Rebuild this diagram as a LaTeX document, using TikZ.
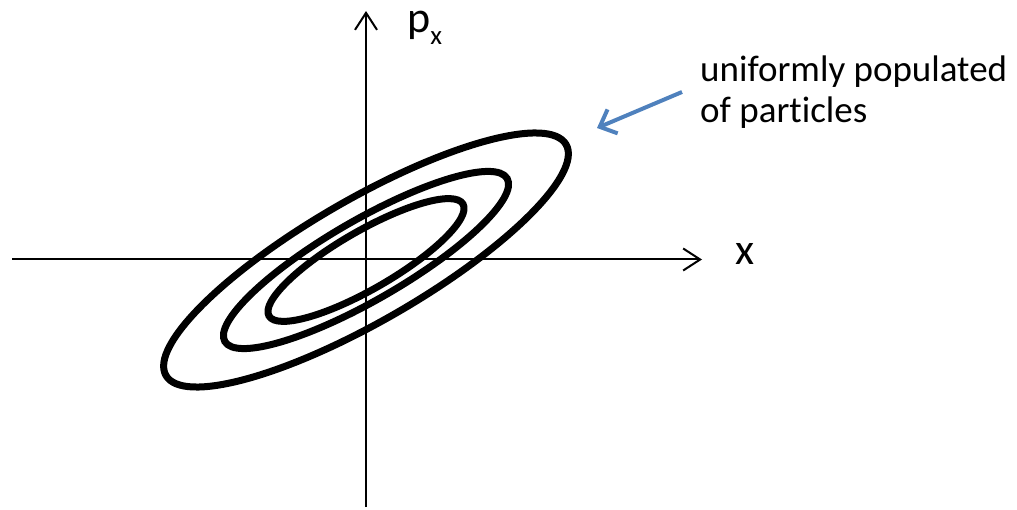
\documentclass[tikz,border=0pt]{standalone}
\usepackage{fontspec}
\setmainfont[Ligatures=NoCommon]{Carlito}
\usetikzlibrary{arrows.meta}
\definecolor{officeblue}{RGB}{79,129,189}
\begin{document}
\begin{tikzpicture}[x=1pt,y=-1pt,
  axis/.style={line width=2pt,-{Straight Barb[length=17pt,width=22pt,line width=2pt]}},
  ellip/.style={line width=7pt},
  lbl/.style={inner sep=0pt,anchor=base west,font=\fontsize{44}{52}\selectfont},
  txt/.style={inner sep=0pt,anchor=base west,font=\fontsize{37}{42}\selectfont},
  pointer/.style={line width=4pt,officeblue,-{Straight Barb[length=14pt,width=26pt,line width=4pt]}}]
\useasboundingbox (0,0) rectangle (1017,510);
\coordinate (o) at (366,260);
\coordinate (xl) at (12,259.5);
\coordinate (xr) at (702,259.5);
\coordinate (yb) at (366,507);
\coordinate (yt) at (366,11);
\draw[axis] (xl) -- (xr);
\draw[axis] (yb) -- (yt);
\draw[ellip, rotate around={30:(o)}] (o) ellipse [x radius=231, y radius=61];
\draw[ellip, rotate around={30:(o)}] (o) ellipse [x radius=163, y radius=40];
\draw[ellip, rotate around={30:(o)}] (o) ellipse [x radius=112, y radius=29];
\node[lbl] (px) at (407,33) {p\raisebox{-0.27em}{\fontsize{27}{30}\selectfont x}};
\node[lbl] (xlab) at (735,265) {x};
\node[txt] (t1) at (700,82) {uniformly populated};
\node[txt] (t2) at (700,123) {of particles};
\coordinate (as) at (682,92);
\coordinate (ae) at (597,128);
\draw[pointer] (as) -- (ae);
\end{tikzpicture}
\end{document}
